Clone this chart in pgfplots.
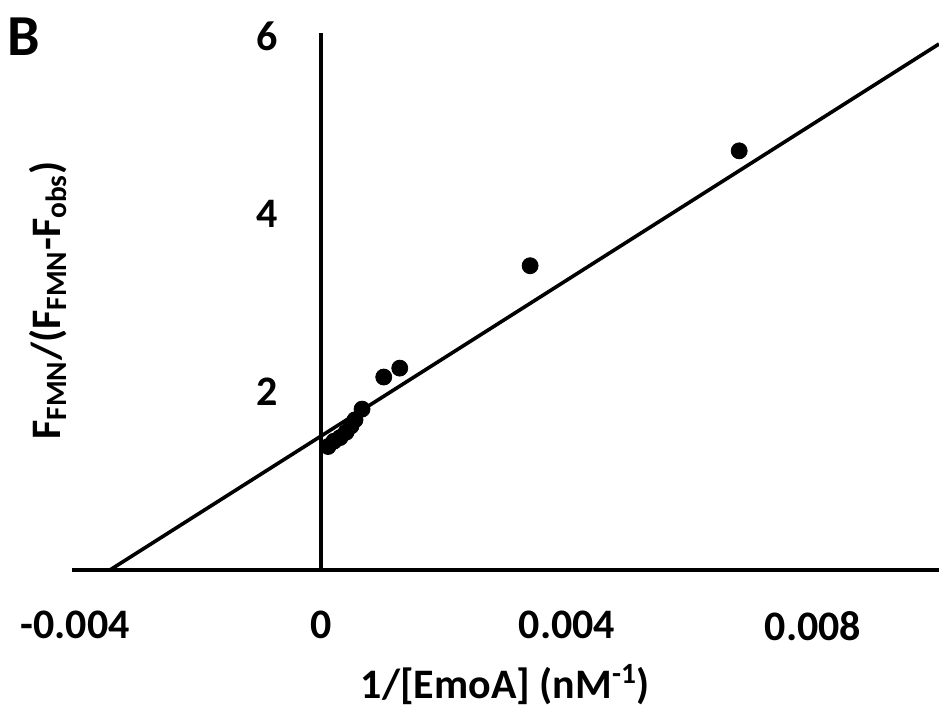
\documentclass[border=0pt]{standalone}
\usepackage{fontspec}
\setmainfont{Carlito}
\usepackage{pgfplots}
\pgfplotsset{compat=1.18}

\begin{document}
\begin{tikzpicture}
\begin{axis}[
  scale only axis, width=433.5pt, height=268.5pt,
  xmin=-0.004049, xmax=0.010049, ymin=0, ymax=6.03,
  axis x line=bottom, axis y line=middle,
  axis line style={-, line width=2pt},
  y axis line style={-},
  xtick={-0.004,0,0.004,0.008}, xticklabels={-0.004,0,0.004,0.008},
  ytick={2,4,6}, yticklabels={2,4,6},
  scaled x ticks=false,
  major tick length=0pt,
  ticklabel style={font=\fontsize{21}{25}\selectfont\bfseries},
  xticklabel style={yshift=-17pt},
  yticklabel style={xshift=-18pt},
  clip=false,
]
\addplot[only marks, mark=*, mark size=4pt, black] coordinates {
  (0.000114,1.39) (0.000211,1.45) (0.000309,1.49) (0.000407,1.55)
  (0.000488,1.62) (0.000553,1.69) (0.000667,1.81) (0.00102,2.17)
  (0.00128,2.27) (0.00340,3.42) (0.00680,4.71)
};
% linear trendline
\addplot[black, line width=1.8pt] coordinates {(-0.00344,0) (0.010049,5.91)};
\draw[line width=2pt] (axis cs:0,0) -- (axis cs:0,6.03);
\node[font=\fontsize{29}{33}\selectfont\bfseries] at (axis cs:-0.00483,5.99) {B};
\node[rotate=90, font=\fontsize{21}{25}\selectfont\bfseries] at (axis cs:-0.00444,3.03)
  {F\textsubscript{FMN}/(F\textsubscript{FMN}-F\textsubscript{obs})};
\node[font=\fontsize{21}{25}\selectfont\bfseries] at (axis cs:0.003,-1.28)
  {1/[EmoA] (nM\textsuperscript{-1})};
\coordinate (bbl) at (axis cs:-0.00522,-1.539);
\coordinate (bbr) at (axis cs:0.010049,6.404);
\end{axis}
\pgfresetboundingbox
\path[use as bounding box] (bbl) rectangle (bbr);
\end{tikzpicture}
\end{document}
